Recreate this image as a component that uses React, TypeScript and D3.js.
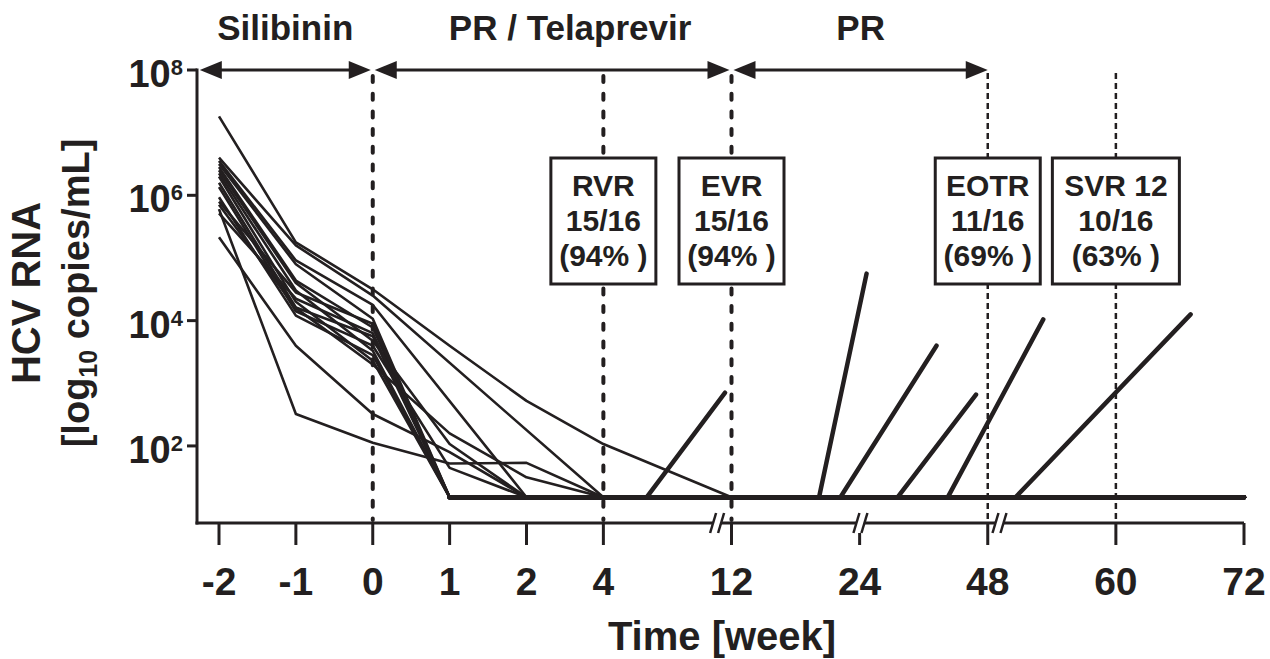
import React from 'react';
import * as d3 from 'd3';

// lower limit of quantification (log10 copies/mL)
const LLOQ = 1.18;

// x axis: broken time axis, weeks
const weekTicks = [-2, -1, 0, 1, 2, 4, 12, 24, 48, 60, 72];
const axisBreaks = [11.1, 24.15, 49.1];

// y axis ticks (log10)
const yTicks = [2, 4, 6, 8];

// early kinetics: weeks -2, -1, 0, 1, 2, 4 (log10 copies/mL), null = not measured
const earlyWeeks = [-2, -1, 0, 1, 2, 4];
const earlyLog: (number | null)[][] = [
  [7.26, 5.25, 4.5, 3.6, 2.72, 2.03],
  [6.6, 5.2, 4.4, null, null, LLOQ],
  [6.55, 4.96, 4.25, null, LLOQ, LLOQ],
  [6.5, 4.9, 4.03, LLOQ, LLOQ, LLOQ],
  [6.45, 4.64, 3.89, LLOQ, LLOQ, LLOQ],
  [6.4, 4.6, 3.68, 2.03, LLOQ, LLOQ],
  [6.35, 4.48, 3.52, LLOQ, LLOQ, LLOQ],
  [6.3, 4.3, 3.36, LLOQ, LLOQ, LLOQ],
  [6.2, 4.21, 3.75, LLOQ, LLOQ, LLOQ],
  [6.13, 4.15, 3.6, 1.65, LLOQ, LLOQ],
  [5.97, 4.08, 3.45, LLOQ, LLOQ, LLOQ],
  [5.9, 4.45, 3.95, LLOQ, LLOQ, LLOQ],
  [5.85, 4.2, 3.3, 2.2, 1.5, LLOQ],
  [5.71, 4.35, 3.8, LLOQ, LLOQ, LLOQ],
  [5.78, 2.51, 2.05, 1.72, 1.73, LLOQ],
  [5.33, 3.6, 2.51, 1.9, LLOQ, LLOQ],
];

// follow-up after week 4: [week, log10]
const followUp: [number, number][][] = [
  [[12, LLOQ], [72, LLOQ]],
  [[72, LLOQ]],
  [[6.7, LLOQ], [11.6, 2.85]],
  [[72, LLOQ]],
  [[20.2, LLOQ], [25.3, 4.75]],
  [[72, LLOQ]],
  [[72, LLOQ]],
  [[22.2, LLOQ], [38.4, 3.6]],
  [[72, LLOQ]],
  [[31.1, LLOQ], [45.8, 2.82]],
  [[72, LLOQ]],
  [[40.5, LLOQ], [53.2, 4.02]],
  [[72, LLOQ]],
  [[50.6, LLOQ], [67, 4.1]],
  [[72, LLOQ]],
  [[72, LLOQ]],
];

// treatment phases (weeks)
const phaseLabels = ['Silibinin', 'PR / Telaprevir', 'PR'];
const phaseStart = [-2.25, 0, 12];
const phaseEnd = [0, 12, 48];

// response boxes
const boxWeeks = [4, 12, 48, 60];
const boxTexts = [
  ['RVR', '15/16', '(94% )'],
  ['EVR', '15/16', '(94% )'],
  ['EOTR', '11/16', '(69% )'],
  ['SVR 12', '10/16', '(63% )'],
];

const ink = '#231f20';
const font = "'Liberation Sans', Arial, Helvetica, sans-serif";

export default function App() {
  const width = 1270;
  const height = 659;

  // piecewise slot positions: 1 unit between early ticks, 5/3 after week 4
  const gaps = weekTicks.slice(1).map((w, i) => (weekTicks[i] >= 4 ? 5 / 3 : 1));
  const slots = [0, ...Array.from(d3.cumsum(gaps))];
  const xSlot = d3.scaleLinear().domain(weekTicks).range(slots);
  const xPx = d3.scaleLinear().domain([0, slots[slots.length - 1]]).range([219, 1244]);
  const x = (w: number) => xPx(xSlot(w));

  const y = d3.scaleLinear().domain([0.77, 8]).range([523, 70]);

  const axisLeft = 197;
  const axisBottom = y(0.77);

  const line = d3
    .line<[number, number]>()
    .x((d) => x(d[0]))
    .y((d) => y(d[1]));

  const patients = earlyLog.map((vals, i) => {
    const pts: [number, number][] = [];
    earlyWeeks.forEach((w, j) => {
      if (vals[j] != null) pts.push([w, vals[j] as number]);
    });
    followUp[i].forEach((p) => pts.push(p));
    const k = pts.findIndex((p) => p[1] === LLOQ);
    return { early: pts.slice(0, k + 1), tail: pts.slice(k) };
  });

  const arrowLen = 22;
  const arrowHalf = 9;
  const arrowY = 70;

  return (
    <svg
      width={width}
      height={height}
      style={{ position: 'absolute', left: 0, top: 0, background: '#fff' }}
      fontFamily={font}
      fontWeight="bold"
    >
      {/* vertical reference lines */}
      {[0, 4, 12].map((w) => (
        <line
          key={'v' + w}
          x1={x(w)}
          x2={x(w)}
          y1={76}
          y2={520}
          stroke={ink}
          strokeWidth={4}
          strokeDasharray="6 11.7"
          strokeLinecap="round"
        />
      ))}
      {[48, 60].map((w) => (
        <line
          key={'v' + w}
          x1={x(w)}
          x2={x(w)}
          y1={73}
          y2={523}
          stroke={ink}
          strokeWidth={2.5}
          strokeDasharray="6 4"
        />
      ))}

      {/* patient curves */}
      {patients.map((p, i) => (
        <path
          key={'e' + i}
          d={line(p.early) || ''}
          fill="none"
          stroke={ink}
          strokeWidth={2.6}
          strokeLinejoin="round"
        />
      ))}
      {patients.map((p, i) => (
        <path
          key={'t' + i}
          d={line(p.tail) || ''}
          fill="none"
          stroke={ink}
          strokeWidth={4.5}
          strokeLinecap="round"
          strokeLinejoin="round"
        />
      ))}

      {/* axes */}
      <line x1={axisLeft} x2={axisLeft} y1={68.5} y2={axisBottom + 1.5} stroke={ink} strokeWidth={3} />
      <line x1={axisLeft - 1.5} x2={x(72)} y1={axisBottom} y2={axisBottom} stroke={ink} strokeWidth={3} />
      {yTicks.map((t) => (
        <g key={'yt' + t}>
          <line x1={axisLeft - 10} x2={axisLeft} y1={y(t)} y2={y(t)} stroke={ink} strokeWidth={3} />
          <text x={183} y={y(t) + 17} textAnchor="end" fontSize={38} fill={ink}>
            10
            <tspan fontSize={22} dy={-12}>
              {t}
            </tspan>
          </text>
        </g>
      ))}
      {weekTicks.map((w) => (
        <g key={'xt' + w}>
          <line x1={x(w)} x2={x(w)} y1={axisBottom} y2={axisBottom + 22} stroke={ink} strokeWidth={3} />
          <text x={x(w)} y={595} textAnchor="middle" fontSize={39} fill={ink}>
            {w}
          </text>
        </g>
      ))}
      {axisBreaks.map((w) => {
        const c = x(w);
        const b = axisBottom;
        return (
          <g key={'br' + w}>
            <polygon
              points={`${c - 7},${b + 10} ${c - 1},${b - 10} ${c + 7},${b - 10} ${c + 1},${b + 10}`}
              fill="#fff"
            />
            <line x1={c - 7} y1={b + 10} x2={c - 1} y2={b - 10} stroke={ink} strokeWidth={2.5} />
            <line x1={c + 1} y1={b + 10} x2={c + 7} y2={b - 10} stroke={ink} strokeWidth={2.5} />
          </g>
        );
      })}

      {/* axis titles */}
      <text x={722} y={650} textAnchor="middle" fontSize={40} fill={ink}>
        Time [week]
      </text>
      <g transform="translate(0,293) rotate(-90)">
        <text x={0} y={40} textAnchor="middle" fontSize={40} fill={ink}>
          HCV RNA
        </text>
        <text x={0} y={89} textAnchor="middle" fontSize={38} fill={ink}>
          [log
          <tspan fontSize={25} dy={8}>
            10
          </tspan>
          <tspan dy={-8}> copies/mL]</tspan>
        </text>
      </g>

      {/* treatment phase arrows */}
      {phaseLabels.map((label, i) => {
        const x1 = x(phaseStart[i]) + (i === 0 ? 0 : 2);
        const x2 = x(phaseEnd[i]) - (i === 2 ? 0 : 2);
        const mid = (x1 + x2) / 2 + (i === 1 ? 18 : 0);
        return (
          <g key={'ph' + i}>
            <line x1={x1 + arrowLen - 2} x2={x2 - arrowLen + 2} y1={arrowY} y2={arrowY} stroke={ink} strokeWidth={3} />
            <polygon
              points={`${x1},${arrowY} ${x1 + arrowLen},${arrowY - arrowHalf} ${x1 + arrowLen},${arrowY + arrowHalf}`}
              fill={ink}
            />
            <polygon
              points={`${x2},${arrowY} ${x2 - arrowLen},${arrowY - arrowHalf} ${x2 - arrowLen},${arrowY + arrowHalf}`}
              fill={ink}
            />
            <text x={mid} y={40} textAnchor="middle" fontSize={35} fill={ink}>
              {label}
            </text>
          </g>
        );
      })}

      {/* response boxes */}
      {boxWeeks.map((w, i) => {
        const bw = boxTexts[i][0].length > 4 ? 127 : 105;
        const cx = x(w);
        return (
          <g key={'bx' + i}>
            <rect x={cx - bw / 2} y={158} width={bw} height={126} fill="#fff" stroke={ink} strokeWidth={3} />
            {boxTexts[i].map((t, j) => (
              <text key={j} x={cx} y={196 + j * 35} textAnchor="middle" fontSize={30} fill={ink}>
                {t}
              </text>
            ))}
          </g>
        );
      })}
    </svg>
  );
}
